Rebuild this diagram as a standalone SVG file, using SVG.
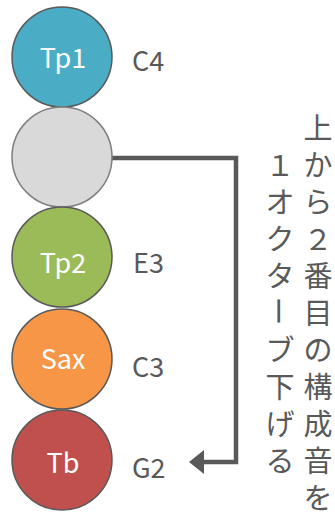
<svg xmlns="http://www.w3.org/2000/svg" width="335" height="515" viewBox="0 0 335 515">
<style>
.c{stroke:#595959;stroke-width:1.5}
.in{font-family:"Noto Sans CJK JP","Liberation Sans",sans-serif;font-size:27px;fill:#ffffff;text-anchor:middle}
.lb{font-family:"Noto Sans CJK JP","Liberation Sans",sans-serif;font-size:27px;fill:#595959}
.vt{font-family:"Noto Sans CJK JP",sans-serif;font-size:29px;fill:#595959;text-anchor:middle;dominant-baseline:central}
</style>
<defs>
<marker id="ah" markerUnits="userSpaceOnUse" viewBox="0 0 15 24" markerWidth="15" markerHeight="24" refX="9" refY="12" orient="auto">
<path d="M0,0 L15,12 L0,24 z" fill="#595959"/>
</marker>
</defs>
<g id="connectors">
<path d="M112,158 H236 V462 H195" fill="none" stroke="#595959" stroke-width="4.5" marker-end="url(#ah)"/>
</g>
<g id="tp1"><circle class="c" cx="62" cy="57" r="50" fill="#4BACC6"/><text class="in" x="63" y="68">Tp1</text></g>
<g id="blank"><circle cx="62" cy="157" r="50" fill="#D9D9D9" stroke="#7F7F7F" stroke-width="1.5"/></g>
<g id="tp2"><circle class="c" cx="62" cy="257" r="50" fill="#9BBB59"/><text class="in" x="63" y="273">Tp2</text></g>
<g id="sax"><circle class="c" cx="62" cy="359" r="50" fill="#F79646"/><text class="in" x="63" y="369">Sax</text></g>
<g id="tb"><circle class="c" cx="62" cy="460" r="50" fill="#C0504D"/><text class="in" x="63" y="473">Tb</text></g>
<g id="labels">
<text class="lb" x="132" y="71">C4</text>
<text class="lb" x="133" y="273">E3</text>
<text class="lb" x="132" y="377">C3</text>
<text class="lb" x="132" y="478">G2</text>
</g>
<g id="note">
<text class="vt" x="318" y="126">上</text>
<text class="vt" x="318" y="163">か</text>
<text class="vt" x="318" y="200">ら</text>
<text class="vt" x="318" y="237">２</text>
<text class="vt" x="318" y="274">番</text>
<text class="vt" x="318" y="311">目</text>
<text class="vt" x="318" y="348">の</text>
<text class="vt" x="318" y="385">構</text>
<text class="vt" x="318" y="422">成</text>
<text class="vt" x="318" y="459">音</text>
<text class="vt" x="318" y="496">を</text>
<text class="vt" x="280" y="163">１</text>
<text class="vt" x="280" y="200">オ</text>
<text class="vt" x="280" y="237">ク</text>
<text class="vt" x="280" y="274">タ</text>
<text class="vt" x="280" y="311" transform="rotate(90 280 311)">ー</text>
<text class="vt" x="280" y="348">ブ</text>
<text class="vt" x="280" y="385">下</text>
<text class="vt" x="280" y="422">げ</text>
<text class="vt" x="280" y="459">る</text>
</g>
</svg>
